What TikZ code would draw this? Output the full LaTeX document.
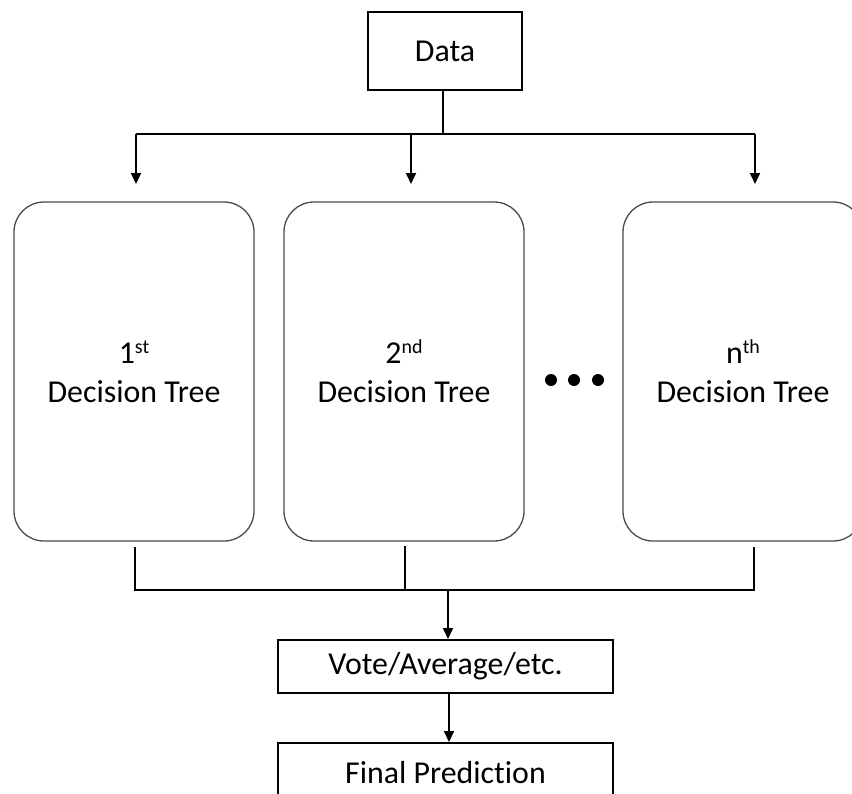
\documentclass[tikz,border=0pt]{standalone}
\usepackage{fontspec}
\setmainfont{Carlito}[Ligatures=NoCommon]
\usetikzlibrary{arrows.meta}

\newcommand{\ordsup}[1]{\raisebox{10bp}{\fontsize{20}{20}\selectfont #1}}

\begin{document}
\begin{tikzpicture}[x=1bp, y=-1bp,
  every node/.style={font=\fontsize{32}{39}\selectfont, align=center, inner sep=0pt},
  sharpbox/.style={draw=black, line width=2bp, minimum width=335bp, minimum height=53bp},
  treebox/.style={draw=black!70, line width=1.3bp, rounded corners=30bp,
                  minimum width=240bp, minimum height=339bp},
  link/.style={draw=black, line width=2bp},
  arrowlink/.style={link, -{Triangle[width=10bp,length=11bp]}},
  dot/.style={circle, fill=black, minimum size=12bp}
]
\useasboundingbox (0,0) rectangle (852,794);
\clip (0,0) rectangle (852,794);

% source
\node[sharpbox, minimum width=154bp, minimum height=78bp] (data) at (445,51) {Data};

% the ensemble of trees
\node[treebox] (t1) at (134,371.5) {1\ordsup{st}\\Decision Tree};
\node[treebox] (t2) at (404,371.5) {2\ordsup{nd}\\Decision Tree};
\node[treebox] (tn) at (743,371.5) {n\ordsup{th}\\Decision Tree};

% ellipsis between the 2nd and nth tree
\node[dot] (d1) at (551,380) {};
\node[dot] (d2) at (574,380) {};
\node[dot] (d3) at (598,380) {};

% aggregation and output
\node[sharpbox] (vote) at (445.5,666.5) {Vote/Average/etc.};
\node[sharpbox, minimum height=60bp] (final) at (445.5,773) {Final Prediction};

% fan-out bus
\coordinate (split) at (443,134);
\coordinate (busL) at (136,134);
\coordinate (busM) at (411,134);
\coordinate (busR) at (755,134);
\coordinate (in1) at (136,184);
\coordinate (in2) at (411,184);
\coordinate (inn) at (755,184);
\draw[link] (data.south -| split) -- (split);
\draw[link] (busL) -- (busR);
\draw[arrowlink] (busL) -- (in1);
\draw[arrowlink] (busM) -- (in2);
\draw[arrowlink] (busR) -- (inn);

% fan-in bus
\coordinate (out1) at (135,547);
\coordinate (out2) at (405,546);
\coordinate (outn) at (754,547);
\coordinate (join1) at (135,590);
\coordinate (join2) at (405,590);
\coordinate (joinn) at (754,590);
\coordinate (merge) at (448,590);
\coordinate (relay) at (449,700);
\draw[link] (out1) -- (join1) -- (joinn) -- (outn);
\draw[link] (out2) -- (join2);
\draw[arrowlink] (merge) -- (merge |- vote.north);
\draw[arrowlink] (vote.south -| relay) -- (final.north -| relay);
\end{tikzpicture}
\end{document}
